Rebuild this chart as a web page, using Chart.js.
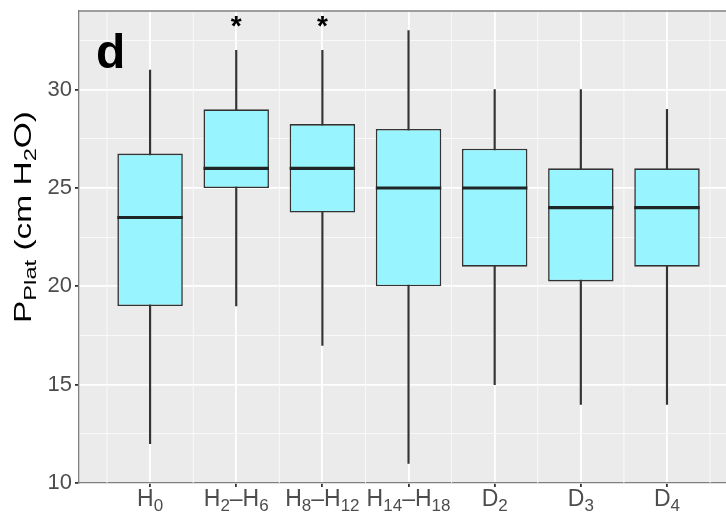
<!DOCTYPE html>
<html>
<head>
<meta charset="utf-8">
<script src="https://cdn.jsdelivr.net/npm/chart.js@4/dist/chart.umd.min.js"></script>
<style>
  html, body { margin: 0; padding: 0; background: #ffffff; overflow: hidden; }
  #wrap { width: 726px; height: 514px; }
</style>
</head>
<body>
<div id="wrap"><canvas id="c" width="726" height="514"></canvas></div>
<script>
// Groups (text in braces after "_" is set as a subscript)
const categories = ['H_{0}', 'H_{2}–H_{6}', 'H_{8}–H_{12}', 'H_{14}–H_{18}', 'D_{2}', 'D_{3}', 'D_{4}'];

// Box-plot summaries of plateau pressure, cm H2O
const whiskerLow  = [12, 19, 17, 11, 15, 14, 14];
const lowerQuart  = [19, 25, 23.75, 20, 21, 20.25, 21];
const medians     = [23.5, 26, 26, 25, 25, 24, 24];
const upperQuart  = [26.75, 29, 28.25, 28, 27, 26, 26];
const whiskerHigh = [31, 32, 32, 33, 30, 30, 29];

// Significance marks above the whiskers
const significance = ['', '*', '*', '', '', '', ''];

// Axis ticks
const yMajorTicks = [10, 15, 20, 25, 30];
const yMinorTicks = [12.5, 17.5, 22.5, 27.5, 32.5];
const yTitle = 'P_{Plat} (cm H_{2}O)';
const panelTag = 'd';

const FONT = "'Liberation Sans', Arial, Helvetica, sans-serif";
const TEXT_GREY = '#4d4d4d';

// split "A_{b}C" into [{t:'A',sub:false},{t:'b',sub:true},{t:'C',sub:false}]
function parseRich(str) {
  const parts = [];
  const re = /_\{([^}]*)\}/g;
  let last = 0, m;
  while ((m = re.exec(str)) !== null) {
    if (m.index > last) parts.push({ t: str.slice(last, m.index), sub: false });
    parts.push({ t: m[1], sub: true });
    last = re.lastIndex;
  }
  if (last < str.length) parts.push({ t: str.slice(last), sub: false });
  return parts;
}

function richWidth(ctx, parts, size, subSize) {
  let w = 0;
  for (const p of parts) {
    ctx.font = (p.sub ? subSize : size) + 'px ' + FONT;
    w += ctx.measureText(p.t).width;
  }
  return w;
}

// draws rich text with its left end at (x, baseline y)
function drawRich(ctx, parts, x, y, size, subSize, subDrop) {
  let cx = x;
  for (const p of parts) {
    ctx.font = (p.sub ? subSize : size) + 'px ' + FONT;
    ctx.fillText(p.t, cx, p.sub ? y + subDrop : y);
    cx += ctx.measureText(p.t).width;
  }
}

const panelPlugin = {
  id: 'panel',
  beforeDraw(chart) {
    const { ctx, chartArea: a } = chart;
    ctx.save();
    ctx.fillStyle = '#ffffff';
    ctx.fillRect(0, 0, chart.width, chart.height);
    ctx.fillStyle = '#ebebeb';
    ctx.fillRect(a.left, a.top, a.right - a.left, a.bottom - a.top);
    ctx.restore();
  },
  beforeDatasetsDraw(chart) {
    // minor vertical grid lines halfway between groups
    const { ctx, chartArea: a } = chart;
    const x = chart.scales.x;
    ctx.save();
    ctx.strokeStyle = '#fbfbfb';
    ctx.lineWidth = 0.9;
    for (let i = 0; i <= categories.length; i++) {
      const px = x.getPixelForValue(i - 0.5);
      if (px < a.left || px > a.right) continue;
      ctx.beginPath();
      ctx.moveTo(px, a.top);
      ctx.lineTo(px, a.bottom);
      ctx.stroke();
    }
    ctx.restore();
  },
  afterDatasetsDraw(chart) {
    const { ctx } = chart;
    const y = chart.scales.y;
    const meta = chart.getDatasetMeta(0);
    ctx.save();
    // median bars across each box
    ctx.strokeStyle = '#1e2626';
    ctx.lineWidth = 3.2;
    medians.forEach((m, i) => {
      const el = meta.data[i];
      const py = y.getPixelForValue(m);
      ctx.beginPath();
      ctx.moveTo(el.x - el.width / 2, py);
      ctx.lineTo(el.x + el.width / 2, py);
      ctx.stroke();
    });
    ctx.restore();
  },
  afterDraw(chart) {
    const { ctx, chartArea: a } = chart;
    const x = chart.scales.x;
    const y = chart.scales.y;
    ctx.save();
    // top edge of the panel frame
    ctx.strokeStyle = '#808080';
    ctx.lineWidth = 1.3;
    ctx.beginPath();
    ctx.moveTo(a.left, a.top);
    ctx.lineTo(a.right, a.top);
    ctx.stroke();

    // category labels with subscripts
    ctx.fillStyle = TEXT_GREY;
    ctx.textBaseline = 'alphabetic';
    ctx.textAlign = 'left';
    categories.forEach((lab, i) => {
      const parts = parseRich(lab);
      const w = richWidth(ctx, parts, 23, 17);
      const px = x.getPixelForValue(i);
      drawRich(ctx, parts, px - w / 2, a.bottom + 23, 23, 17, 5);
    });

    // y-axis title, rotated and set wide
    const tParts = parseRich(yTitle);
    const tw = richWidth(ctx, tParts, 24, 17);
    const titleLength = 212;
    ctx.save();
    ctx.translate(31, (a.top + a.bottom) / 2 - 30);
    ctx.rotate(-Math.PI / 2);
    ctx.scale(titleLength / tw, 1);
    ctx.fillStyle = '#000000';
    drawRich(ctx, tParts, -tw / 2, 0, 24, 17, 5);
    ctx.restore();

    // significance asterisks
    ctx.fillStyle = '#000000';
    ctx.textAlign = 'center';
    ctx.font = 'bold 28px ' + FONT;
    significance.forEach((s, i) => {
      if (!s) return;
      ctx.fillText(s, x.getPixelForValue(i), y.getPixelForValue(whiskerHigh[i]) - 15);
    });

    // panel tag
    ctx.textAlign = 'left';
    ctx.font = 'bold 48px ' + FONT;
    ctx.fillText(panelTag, a.left + 17, a.top + 57);
    ctx.restore();
  }
};

const tickVal = c => (c && c.tick ? c.tick.value : NaN);
const isMajorY = v => yMajorTicks.includes(v);

new Chart(document.getElementById('c'), {
  type: 'bar',
  data: {
    datasets: [
      {
        label: 'box',
        data: categories.map((c, i) => ({ x: i, y: [lowerQuart[i], upperQuart[i]] })),
        backgroundColor: '#98f5ff',
        borderColor: '#333333',
        borderWidth: 1.6,
        borderSkipped: false,
        grouped: false,
        categoryPercentage: 1,
        barPercentage: 0.76
      },
      {
        label: 'whisker',
        data: categories.map((c, i) => ({ x: i, y: [whiskerLow[i], whiskerHigh[i]] })),
        backgroundColor: '#333333',
        borderWidth: 0,
        grouped: false,
        barThickness: 1.5
      }
    ]
  },
  options: {
    responsive: false,
    animation: false,
    devicePixelRatio: 1,
    layout: { padding: { top: 11, right: 0, bottom: 0, left: 0 } },
    plugins: { legend: { display: false }, tooltip: { enabled: false }, title: { display: false } },
    scales: {
      x: {
        type: 'linear',
        offset: false,
        min: -0.825,
        max: 6.685,
        afterBuildTicks(scale) {
          scale.ticks = categories.map((c, i) => ({ value: i }));
        },
        afterFit(scale) {
          scale.height = 31;
          scale.paddingLeft = 0;
          scale.paddingRight = 0;
        },
        ticks: { display: true, callback: () => '', padding: 0 },
        grid: {
          offset: false,
          color: '#ffffff',
          lineWidth: 1.8,
          tickColor: '#333333',
          tickLength: 4,
          drawTicks: true
        },
        border: { display: true, color: '#808080', width: 1.3 }
      },
      y: {
        type: 'linear',
        min: 10,
        max: 34,
        afterBuildTicks(scale) {
          scale.ticks = yMajorTicks.concat(yMinorTicks).sort((a, b) => a - b).map(v => ({ value: v }));
        },
        afterFit(scale) {
          scale.width = 79;
          scale.paddingTop = 0;
          scale.paddingBottom = 0;
        },
        ticks: {
          callback: v => (isMajorY(v) ? String(v) : ''),
          color: TEXT_GREY,
          font: { family: FONT, size: 22 },
          padding: 3
        },
        grid: {
          color: c => (isMajorY(tickVal(c)) ? '#ffffff' : '#fbfbfb'),
          lineWidth: c => (isMajorY(tickVal(c)) ? 1.8 : 0.9),
          tickColor: c => (isMajorY(tickVal(c)) ? '#333333' : 'rgba(0,0,0,0)'),
          tickLength: 4
        },
        border: { display: true, color: '#808080', width: 1.3 }
      }
    }
  },
  plugins: [panelPlugin]
});
</script>
</body>
</html>
